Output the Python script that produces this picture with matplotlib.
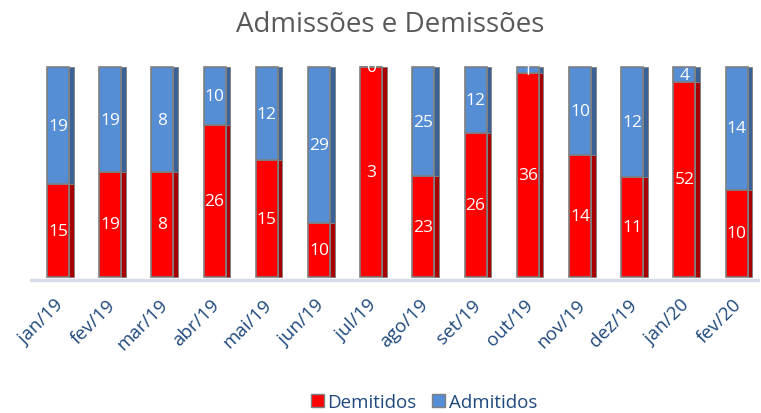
import matplotlib
matplotlib.use("Agg")
import matplotlib.pyplot as plt
import numpy as np
from matplotlib.patches import Patch

months = ["jan/19", "fev/19", "mar/19", "abr/19", "mai/19", "jun/19", "jul/19",
          "ago/19", "set/19", "out/19", "nov/19", "dez/19", "jan/20", "fev/20"]
demitidos = [15, 19, 8, 26, 15, 10, 3, 23, 26, 36, 14, 11, 52, 10]
admitidos = [19, 19, 8, 10, 12, 29, 0, 25, 12, 1, 10, 12, 4, 14]

RED = "#FF0000"
BLUE = "#558ED5"
RED_SIDE = "#A80000"
BLUE_SIDE = "#3B6296"
EDGE = "#7F7F7F"
TXT = "#1F497D"

plt.rcParams['font.family'] = ['Open Sans', 'DejaVu Sans']

fig = plt.figure(figsize=(7.61, 4.14), dpi=100)
ax = fig.add_axes([30/761, 1-285/414, 730/761, 225/414])

dem = np.array(demitidos, float)
adm = np.array(admitidos, float)
tot = dem + adm
fd = dem / tot
fa = adm / tot
x = np.arange(len(months))
w = 22/52.2
sw = 4.5/52.2

# floor line
ax.axhline(-0.012, color="#D5DCE8", lw=2.5, zorder=0)
# side faces
ax.bar(x + w/2 + sw/2, fd, width=sw, color=RED_SIDE, edgecolor=EDGE, lw=0.6, zorder=1)
ax.bar(x + w/2 + sw/2, fa, bottom=fd, width=sw, color=BLUE_SIDE, edgecolor=EDGE, lw=0.6, zorder=1)
# front faces
ax.bar(x, fd, width=w, color=RED, edgecolor=EDGE, lw=1.2, zorder=2)
ax.bar(x, fa, bottom=fd, width=w, color=BLUE, edgecolor=EDGE, lw=1.2, zorder=2)

for i in range(len(months)):
    ax.text(x[i], fd[i]/2, f"{demitidos[i]}", color="white", ha="center", va="center",
            fontsize=12.5, zorder=3)
    ax.text(x[i], fd[i] + fa[i]/2, f"{admitidos[i]}", color="white", ha="center", va="center",
            fontsize=12.5, zorder=3)

ax.set_xlim(-(58-30)/52.2, (760-58)/52.2)
ax.set_ylim(-7/210, 1+8/210)
ax.set_xticks(x - 0.08)
ax.set_xticklabels(months, rotation=45, ha="right", va="top", rotation_mode="anchor",
                   color=TXT, fontsize=13.5)
ax.tick_params(axis="x", length=0, pad=8)
ax.set_yticks([])
for s in ax.spines.values():
    s.set_visible(False)

fig.text(0.513, 1-25/414, "Admissões e Demissões", ha="center", va="center",
         fontsize=20, color="#595959")

handles = [Patch(facecolor=RED, edgecolor=EDGE, label="Demitidos"),
           Patch(facecolor=BLUE, edgecolor=EDGE, label="Admitidos")]
fig.legend(handles=handles, loc="center", bbox_to_anchor=(0.557, 1-403/414), ncol=2,
           frameon=False, fontsize=13.5, handlelength=0.7, handleheight=0.7,
           handletextpad=0.2, columnspacing=0.8, labelcolor=TXT)

fig.savefig("out.png", dpi=100)
